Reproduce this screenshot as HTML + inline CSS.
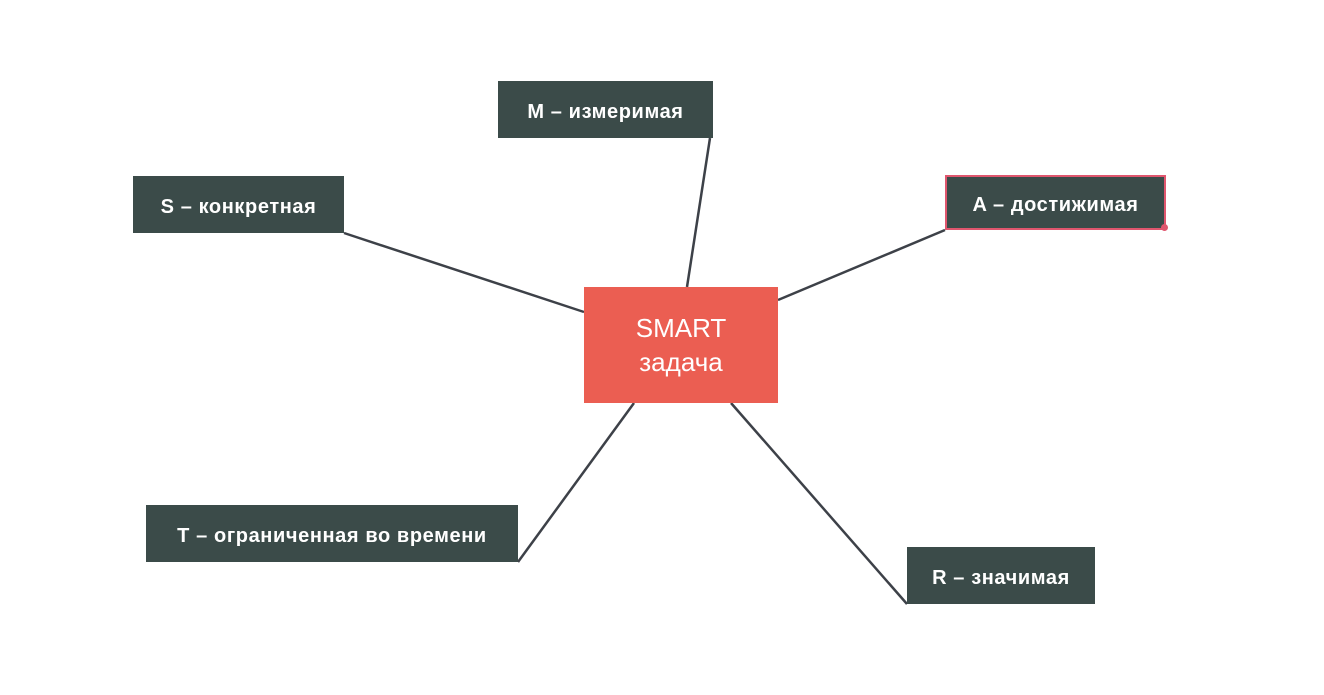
<!DOCTYPE html>
<html><head><meta charset="utf-8"><style>
body{margin:0;width:1324px;height:695px;background:#fff;position:relative;overflow:hidden;font-family:"Liberation Sans","DejaVu Sans",sans-serif}
.b{position:absolute;background:#3b4b49;color:#fff;font-weight:bold;font-size:20px;letter-spacing:0.6px;display:flex;align-items:center;justify-content:center;box-sizing:border-box;padding-top:5px}
.c{position:absolute;left:584px;top:287px;width:194px;height:116px;background:#eb5e52;color:#fff;font-size:26px;display:flex;flex-direction:column;align-items:center;justify-content:center;line-height:34px}
svg{position:absolute;left:0;top:0}
</style></head><body>
<svg width="1324" height="695"><g stroke="#3d4148" stroke-width="2.5">
<line x1="344" y1="233" x2="584" y2="312"/>
<line x1="710" y1="138" x2="687" y2="287"/>
<line x1="945" y1="230" x2="778" y2="300"/>
<line x1="518" y1="562" x2="634" y2="403"/>
<line x1="907" y1="604" x2="731" y2="403"/>
</g></svg>
<div class="c"><div>SMART</div><div>задача</div></div>
<div class="b" style="left:498px;top:81px;width:215px;height:57px">M – измеримая</div>
<div class="b" style="left:133px;top:176px;width:211px;height:57px">S – конкретная</div>
<div class="b" style="left:945px;top:175px;width:221px;height:55px;border:2px solid #e0566e">A – достижимая</div>
<div style="position:absolute;left:1161px;top:224px;width:7px;height:7px;border-radius:50%;background:#e0566e"></div>
<div class="b" style="left:146px;top:505px;width:372px;height:57px">T – ограниченная во времени</div>
<div class="b" style="left:907px;top:547px;width:188px;height:57px">R – значимая</div>
</body></html>
